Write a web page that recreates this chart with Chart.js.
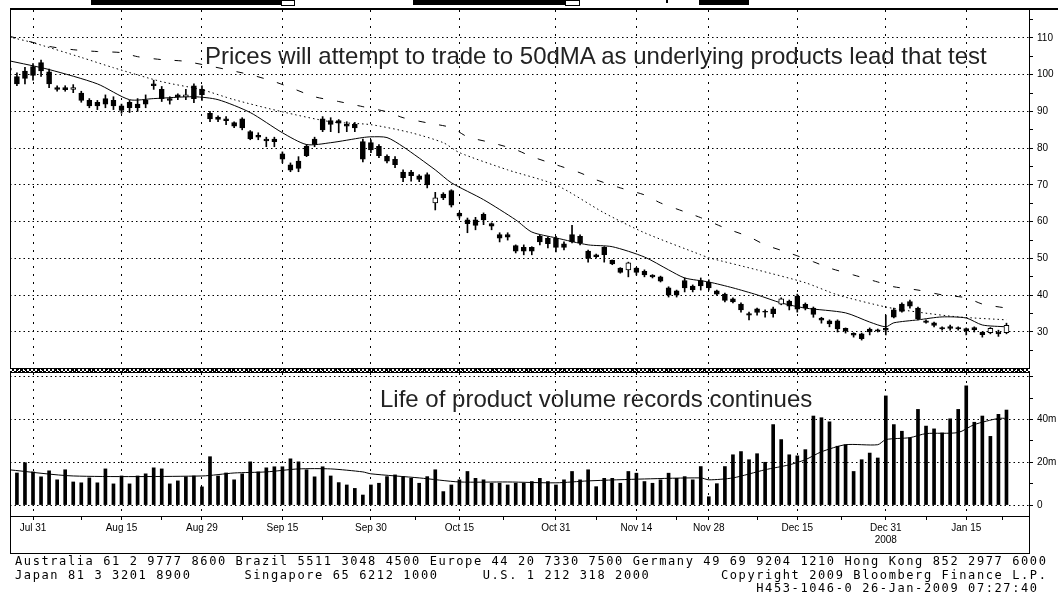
<!DOCTYPE html>
<html lang="en">
<head>
<meta charset="UTF-8" />
<title>Price and volume, Jul 2008 - Jan 2009</title>
<script src="https://cdn.jsdelivr.net/npm/chart.js"></script>
<style>
  * { margin: 0; padding: 0; box-sizing: border-box; }
  body {
    width: 1058px; height: 599px; background: #fff;
    position: relative; overflow: hidden;
    font-family: 'Liberation Sans', Arial, sans-serif;
  }
  .abs { position: absolute; }
  #pricePane { left: 10px; top: 10px; width: 1048px; height: 358px; }
  #volumePane { left: 10px; top: 373px; width: 1048px; height: 180px; }
  .line { background: #000; }
  .hatch {
    left: 10px; top: 368px; width: 1020px; height: 5px;
    border-top: 1px solid #000; border-bottom: 1px solid #000;
    background:
      repeating-linear-gradient(45deg, #000 0 1px, transparent 1px 3px),
      repeating-linear-gradient(-45deg, #000 0 1px, #fff 1px 3px);
  }
  .note { font-size: 24px; line-height: 24px; color: #222; white-space: nowrap; }
  .footer {
    left: 15px; top: 555px; white-space: pre;
    font-family: 'DejaVu Sans Mono', monospace; font-size: 12px;
    letter-spacing: 1.6px; line-height: 13.5px; color: #000;
  }
  .stub { background: #000; }
  .stubBox { background: #fff; border: 1px solid #000; }
</style>
</head>
<body>
  <!-- cut-off toolbar at the very top -->
  <div class="abs stub" style="left:91px;top:0;width:190px;height:5px"></div>
  <div class="abs stubBox" style="left:281px;top:0;width:14px;height:6px"></div>
  <div class="abs stub" style="left:413px;top:0;width:152px;height:5px"></div>
  <div class="abs stubBox" style="left:565px;top:0;width:15px;height:6px"></div>
  <div class="abs stub" style="left:666px;top:0;width:2px;height:3px"></div>
  <div class="abs stub" style="left:699px;top:0;width:50px;height:5px"></div>

  <div id="pricePane" class="abs"><canvas id="priceChart"></canvas></div>
  <div id="volumePane" class="abs"><canvas id="volumeChart"></canvas></div>

  <!-- frame -->
  <div class="abs line" style="left:10px;top:8px;width:1048px;height:2px"></div>
  <div class="abs line" style="left:10px;top:9px;width:1px;height:545px"></div>
  <div class="abs line" style="left:1029px;top:9px;width:1px;height:545px"></div>
  <div class="abs hatch"></div>
  <div class="abs line" style="left:10px;top:516px;width:1020px;height:1px"></div>
  <div class="abs line" style="left:10px;top:553px;width:1020px;height:1px"></div>

  <div class="abs note" style="left:205px;top:44px">Prices will attempt to trade to 50dMA as underlying products lead that test</div>
  <div class="abs note" style="left:380px;top:387px">Life of product volume records continues</div>

  <div class="abs footer">Australia 61 2 9777 8600 Brazil 5511 3048 4500 Europe 44 20 7330 7500 Germany 49 69 9204 1210 Hong Kong 852 2977 6000
Japan 81 3 3201 8900      Singapore 65 6212 1000     U.S. 1 212 318 2000        Copyright 2009 Bloomberg Finance L.P.
                                                                                    H453-1046-0 26-Jan-2009 07:27:40</div>

<script>
// trading day numbers: 0 = Jul 31, the first bar is 3 sessions before
const FIRST_DAY = -3;
const X_MIN = -2.86;
const X_MAX = 123.8;

// daily candles, one entry per session from FIRST_DAY
const opens = [
  101.8, 99.5, 101, 102.2, 103.3, 100.8, 96.5, 96.5, 96, 95,
  93, 92.5, 93.5, 93, 91.5, 92.5, 92, 93, 97.5, 96,
  93.5, 94.5, 94, 97, 96, 89.5, 88.5, 88, 87, 88,
  84.5, 83.5, 82.5, 82.5, 78.5, 75.5, 76.5, 80.5, 82.5, 88,
  87.5, 87.5, 86.5, 86.5, 81.8, 81.5, 80.5, 77.8, 77, 73.5,
  73.5, 72.5, 72.8, 65.1, 67.5, 68.5, 62.3, 60.5, 60.5, 62,
  59.5, 56.5, 56.5, 53.5, 53, 53, 56, 55.5, 55.5, 54,
  56.5, 56, 52, 51, 53, 49.5, 47.4, 46.9, 47.4, 46.5,
  45.5, 45, 42, 41.2, 44, 42.5, 44, 43.5, 41.2, 40.3,
  39, 37.6, 35, 36.3, 35.6, 36.3, 37.6, 38.4, 39.8, 37.5,
  36.5, 33.8, 33, 33, 31, 29.6, 29.5, 30.8, 30.6, 31,
  36, 37.6, 38.3, 36.5, 33, 32.5, 31.2, 31.5, 31.2, 30.9,
  31.2, 30, 29.8, 30, 29.8
];
const highs = [
  102.2, 100.5, 102, 103, 104, 101.5, 97, 97, 97.3, 95.5,
  93.5, 93, 94.5, 94, 92, 93, 93.5, 94.5, 98.5, 96.8,
  94, 94.8, 96, 97.5, 97, 90, 88.8, 88.6, 87.2, 88.3,
  84.8, 84.2, 83, 83, 79, 76, 77.7, 81, 83, 88.6,
  88.3, 87.8, 87.2, 87, 82.5, 82.3, 81, 78.2, 77.7, 74.1,
  74, 72.8, 73.3, 68, 67.9, 68.7, 62.6, 61, 61.2, 62.4,
  59.7, 57, 57, 53.7, 53.7, 53.2, 56.4, 55.9, 56, 54.5,
  59, 56.4, 52.3, 51.2, 53.2, 49.6, 47.5, 49, 47.6, 46.9,
  45.6, 45.2, 42.3, 41.4, 44.7, 42.8, 44.7, 44.2, 41.4, 40.6,
  39.3, 37.9, 35.4, 36.5, 36, 36.8, 39.3, 38.7, 40.3, 37.9,
  36.8, 34, 33.3, 33.3, 31.1, 29.8, 29.7, 31.1, 30.8, 34.6,
  36.5, 37.9, 38.7, 36.8, 33.3, 32.7, 31.4, 31.9, 31.4, 31.1,
  31.4, 30, 31.2, 30.5, 32.4
];
const lows = [
  100.8, 97, 97.5, 98.5, 99.5, 96.5, 95.5, 95.5, 95.1, 92.5,
  91, 90.5, 91, 90.5, 89.5, 89.7, 90, 91, 96, 92.7,
  92, 93.2, 93.2, 92.4, 93, 87.2, 87.2, 86.4, 85.6, 85,
  82.3, 82.3, 80.4, 80.4, 76, 73.6, 73.6, 77.7, 80.4, 84.5,
  84.5, 84.2, 84.5, 84.5, 76.3, 78.8, 77.4, 76, 74.7, 70.9,
  71, 70.9, 69.2, 63.2, 66, 64, 61, 57, 57.8, 59.2,
  57.8, 54.5, 55, 51.5, 51, 51, 53.7, 52.9, 51.8, 52.3,
  54.2, 53.7, 49, 50.2, 49, 48.3, 46, 45, 45.5, 45,
  44.7, 43.6, 39.5, 39.5, 40.9, 40.9, 41.4, 41.4, 40, 38.2,
  37.9, 35.4, 33.3, 34.6, 34, 34, 37.4, 36, 35.4, 36,
  34, 32.4, 31.4, 30, 29.7, 28.6, 27.8, 29.2, 30, 29.2,
  33.8, 35.4, 36.5, 33.3, 32.4, 31.4, 30.5, 30.5, 30.5, 29.2,
  30, 28.6, 29.5, 28.8, 29.5
];
const closes = [
  101.2, 97.5, 99, 99.8, 101, 97.5, 96, 95.9, 96.5, 93,
  91.5, 91.5, 92, 91.5, 90.3, 91, 91, 92, 97, 93.5,
  93, 94, 94.5, 93.5, 94.5, 88, 87.8, 87.5, 86, 85.5,
  82.5, 83, 82, 81.8, 77, 74, 74.5, 78, 81, 85,
  86.5, 86.8, 86, 85.5, 77, 79.5, 78, 76.5, 75.5, 72,
  72.5, 71.5, 70, 66.5, 66.5, 64.5, 61.5, 59.5, 59, 60.5,
  58.8, 55.5, 55.8, 52, 52, 52, 54.5, 54, 53, 53,
  54.5, 54.2, 50, 50.5, 51, 48.5, 46.2, 48.8, 46.2, 45.5,
  45, 43.8, 40, 40, 42, 41.5, 42.5, 42, 40.3, 38.6,
  38.2, 36, 34.6, 35.3, 35.4, 35, 39, 37, 36.2, 36.5,
  34.8, 33.2, 32.2, 30.8, 30.2, 29.1, 28.2, 30, 30.3, 30.5,
  34, 35.6, 37, 33.6, 32.6, 31.8, 30.8, 31, 30.8, 30.3,
  30.6, 29.3, 31, 29.5, 31.8
];

// daily volume, millions
const volumes = [
  10.4, 15, 19.8, 15.5, 13.2, 16, 11.8, 16.5, 10.8, 10.4,
  12.7, 10.4, 16.9, 9.9, 13.6, 9.9, 13.6, 14.6, 17.4, 16.9,
  9.9, 11.3, 13.2, 13.6, 8.5, 22.6, 13.6, 15, 11.8, 14.6,
  20.2, 15.5, 17.4, 17.9, 17.9, 21.6, 20.2, 16.5, 13.2, 17.9,
  13.6, 10.5, 9.4, 7.8, 4.7, 9.4, 10.2, 13.3, 14.1, 13.3,
  12.5, 10.2, 13.3, 16.5, 6.3, 9.4, 11.8, 15.7, 12.5, 11.8,
  10.2, 10.2, 9.4, 10.2, 10.2, 11, 12.5, 11, 9.4, 11.8,
  15.7, 11.8, 16.5, 8.6, 12.5, 12.5, 10.2, 15.7, 14.9, 11,
  10.2, 11.8, 14.9, 12.5, 13.3, 11.8, 18, 3.9, 10, 18,
  23.5, 25, 21.2, 24, 20, 37.6, 30.6, 23.5, 23, 25.9,
  41.6, 40.8, 38.9, 27.5, 28.2, 15.7, 21.2, 24.3, 22, 51,
  37.6, 34.5, 31.4, 44.7, 36.9, 35.6, 33.7, 40.3, 44.7, 55.7,
  38.7, 41.6, 32.1, 42.4, 44.4
];

// moving averages (day, value)
const shortMaDays = [-3, 2, 8, 12, 15, 20, 23, 27, 31, 34, 37, 41, 42, 44, 46, 50, 52, 56, 60, 62, 65, 69, 72, 76, 79, 81, 84, 87, 90, 93, 96, 101, 104, 106, 107, 110, 113, 116, 118, 121];
const shortMaValues = [103.8, 101.4, 97.5, 93.2, 93.5, 94, 93.2, 89.7, 84.2, 81, 81.5, 82.9, 83.1, 82.9, 80.4, 74.1, 70.6, 66, 60.5, 57.2, 55.6, 53.7, 53.2, 50.4, 46.9, 44.7, 43.6, 42, 40.1, 37.9, 36.5, 35.2, 32.7, 31.4, 32.5, 33.3, 34.1, 33.8, 31.9, 31.4];
const midMaDays = [-3, 0, 6, 10, 16, 21, 25, 31, 37, 42, 47, 51, 53, 59, 65, 71, 76, 83, 84, 90, 96, 100, 106, 110, 115, 121];
const midMaValues = [110.3, 108.7, 104.7, 101.9, 98.1, 95.9, 93.2, 89.9, 87.2, 86.4, 84.2, 81.5, 78.8, 74.1, 70, 62.4, 57, 51, 50.2, 46.9, 43.4, 40.1, 36.8, 35.4, 34.1, 33.3];
const longMaDays = [-3, 2, 5, 8, 11, 13, 16, 19, 27, 30, 32, 35, 38, 41, 44, 46, 49, 52, 54, 57, 60, 62, 65, 68, 70, 73, 76, 78, 81, 83, 86, 89, 91, 94, 97, 99, 102, 105, 107, 110, 113, 116, 118, 121];
const longMaValues = [110.5, 107.7, 106.8, 106.3, 106, 104.9, 104.1, 103.6, 100, 98.1, 96.5, 94, 92.7, 91.3, 89.9, 88.3, 86.9, 85.6, 83.1, 81.5, 79.6, 77.7, 75.5, 73.3, 71.4, 69.2, 67.3, 65.1, 62.7, 61.1, 58.3, 55.9, 53.7, 51.5, 49.1, 47.4, 45.5, 43.6, 42.3, 41.4, 40.1, 39.3, 37.6, 36.5];
const volMaDays = [-3, 5, 21, 25, 29, 33, 37, 41, 42, 48, 53, 59, 65, 69, 76, 83, 84, 87, 91, 94, 96, 98, 101, 105, 106, 109, 111, 115, 117, 120, 121];
const volMaValues = [16.5, 13.6, 13.6, 15, 15.5, 16.9, 16.9, 15.5, 14.6, 12.7, 10.8, 10.8, 10.4, 11.3, 12.2, 12.7, 11.8, 12.7, 16.5, 18.8, 21.2, 24.9, 28.2, 28.2, 30.6, 31.5, 33.4, 33.9, 37.6, 40.5, 40.5];

// axis ticks
const dateTickDays = [0, 11, 21, 31, 42, 53, 65, 75, 84, 95, 106, 116];
const dateTickLabels = ['Jul 31', 'Aug 15', 'Aug 29', 'Sep 15', 'Sep 30', 'Oct 15', 'Oct 31', 'Nov 14', 'Nov 28', 'Dec 15', 'Dec 31', 'Jan 15'];
const minorTickDays = [6, 16, 26, 36, 47.5, 58.5, 70, 80, 90, 100.5, 111, 120.5];
const yearLabel = '2008';
const yearLabelDay = 106;
const priceTicks = [25, 30, 35, 40, 45, 50, 55, 60, 65, 70, 75, 80, 85, 90, 95, 100, 105, 110, 115];
const volumeTicks = [0, 10, 20, 30, 40, 50, 60];

const tickFont = { family: "'Liberation Sans', Arial, sans-serif", size: 10 };
const days = opens.map((_, k) => FIRST_DAY + k);
const points = (xs, ys) => xs.map((x, k) => ({ x: x, y: ys[k] }));

const maLine = (data, dash) => ({
  type: 'line', data: data, borderColor: '#000', borderWidth: 1,
  borderDash: dash, pointRadius: 0, tension: 0.25, clip: 0, order: 2
});

const xCommon = {
  type: 'linear', min: X_MIN, max: X_MAX, offset: false,
  grid: { offset: false }
};

new Chart(document.getElementById('priceChart'), {
  type: 'bar',
  data: {
    datasets: [
      {
        data: days.map((d, k) => ({ x: d, y: [opens[k], closes[k]] })),
        backgroundColor: opens.map((o, k) => closes[k] > o ? '#fff' : '#000'),
        borderColor: '#000', borderWidth: 1, borderSkipped: false,
        barThickness: 5, grouped: false, clip: 0, order: 0
      },
      {
        data: days.map((d, k) => ({ x: d, y: [lows[k], highs[k]] })),
        backgroundColor: '#000', borderWidth: 0,
        barThickness: 1, grouped: false, clip: 0, order: 1
      },
      maLine(points(shortMaDays, shortMaValues), []),
      maLine(points(midMaDays, midMaValues), [1.5, 3]),
      maLine(points(longMaDays, longMaValues), [7, 14])
    ]
  },
  options: {
    responsive: true, maintainAspectRatio: false, animation: false,
    devicePixelRatio: 1, events: [],
    layout: { padding: 0 },
    plugins: { legend: { display: false }, tooltip: { enabled: false } },
    scales: {
      x: {
        ...xCommon,
        afterBuildTicks: a => { a.ticks = dateTickDays.map(v => ({ value: v })); },
        afterFit: a => { a.height = 0; a.paddingLeft = 0; a.paddingRight = 0; },
        ticks: { display: false },
        grid: { offset: false, color: '#000', drawTicks: false },
        border: { display: false, dash: [2, 6] }
      },
      y: {
        position: 'right', min: 20.2, max: 117.6,
        afterBuildTicks: a => { a.ticks = priceTicks.map(v => ({ value: v })); },
        afterFit: a => { a.width = 29; a.paddingTop = 0; a.paddingBottom = 0; },
        ticks: {
          callback: v => v % 10 === 0 ? String(v) : '',
          font: tickFont, color: '#000', padding: 4
        },
        grid: {
          color: c => c.tick && c.tick.value % 10 === 0 ? '#000' : 'rgba(0,0,0,0)',
          tickColor: '#000', tickLength: 4, tickBorderDash: []
        },
        border: { display: false, dash: [1.5, 3] }
      }
    }
  }
});

new Chart(document.getElementById('volumeChart'), {
  type: 'bar',
  data: {
    datasets: [
      {
        data: points(days, volumes),
        backgroundColor: '#000', borderWidth: 0,
        barThickness: 3, grouped: false, clip: 0, order: 1
      },
      maLine(points(volMaDays, volMaValues), [])
    ]
  },
  options: {
    responsive: true, maintainAspectRatio: false, animation: false,
    devicePixelRatio: 1, events: [],
    layout: { padding: 0 },
    plugins: { legend: { display: false }, tooltip: { enabled: false } },
    scales: {
      x: {
        ...xCommon,
        afterBuildTicks: a => {
          a.ticks = dateTickDays.concat(minorTickDays).sort((p, q) => p - q).map(v => ({ value: v }));
        },
        afterFit: a => { a.height = 37; a.paddingLeft = 0; a.paddingRight = 0; },
        ticks: {
          autoSkip: false, maxRotation: 0, minRotation: 0,
          callback: v => {
            const k = dateTickDays.indexOf(v);
            if (k < 0) return '';
            return v === yearLabelDay ? [dateTickLabels[k], yearLabel] : dateTickLabels[k];
          },
          font: tickFont, color: '#000', padding: 2
        },
        grid: {
          offset: false,
          color: c => c.tick && dateTickDays.includes(c.tick.value) ? '#000' : 'rgba(0,0,0,0)',
          tickColor: '#000', tickLength: 4, tickBorderDash: []
        },
        border: { display: false, dash: [2, 6] }
      },
      y: {
        position: 'right', min: -5.1, max: 61.7,
        afterBuildTicks: a => { a.ticks = volumeTicks.map(v => ({ value: v })); },
        afterFit: a => { a.width = 29; a.paddingTop = 0; a.paddingBottom = 0; },
        ticks: {
          callback: v => v === 0 ? '0' : (v === 20 || v === 40 ? v + 'm' : ''),
          font: tickFont, color: '#000', padding: 4
        },
        grid: {
          color: c => c.tick && c.tick.value % 20 === 0 ? '#000' : 'rgba(0,0,0,0)',
          tickColor: '#000', tickLength: 4, tickBorderDash: []
        },
        border: { display: false, dash: [1.5, 3] }
      }
    }
  }
});
</script>
</body>
</html>
